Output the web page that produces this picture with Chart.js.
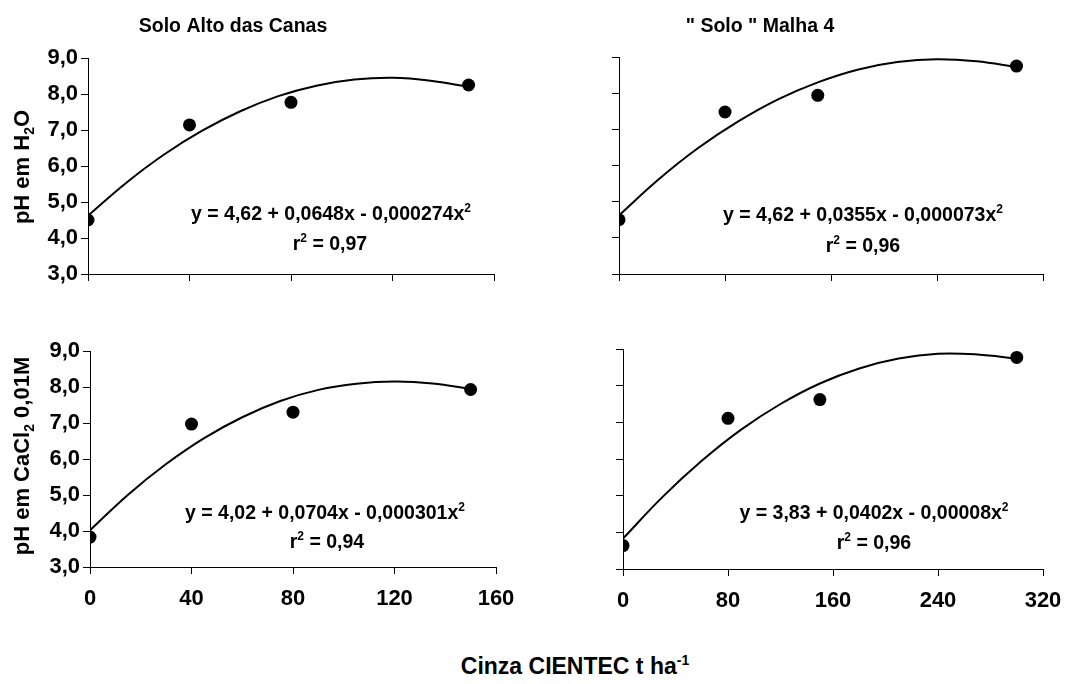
<!DOCTYPE html>
<html>
<head>
<meta charset="utf-8">
<script src="https://cdn.jsdelivr.net/npm/chart.js@4/dist/chart.umd.min.js"></script>
<style>
  html, body { margin: 0; padding: 0; background: #fff; }
  #page { position: relative; width: 1076px; height: 684px; overflow: hidden; }
  canvas { position: absolute; }
  #xtitle {
    position: absolute; left: 575px; top: 655px; transform: translateX(-50%);
    font: bold 23px "Liberation Sans", Arial, sans-serif; line-height: 23px;
    white-space: nowrap; color: #000;
  }
  #xtitle sup { font-size: 14px; vertical-align: 9px; line-height: 0; }
</style>
</head>
<body>
<div id="page">
  <canvas id="c1" width="540" height="300" style="left:0;top:0"></canvas>
  <canvas id="c2" width="536" height="300" style="left:540px;top:0"></canvas>
  <canvas id="c3" width="540" height="340" style="left:0;top:300px"></canvas>
  <canvas id="c4" width="536" height="340" style="left:540px;top:300px"></canvas>
  <div id="xtitle">Cinza CIENTEC t ha<sup>-1</sup></div>
</div>
<script>
// --- DATA ---
const yTicks = [3, 4, 5, 6, 7, 8, 9];
const yTickLabels = ['3,0', '4,0', '5,0', '6,0', '7,0', '8,0', '9,0'];
const xTicksA = ['0', '40', '80', '120', '160'];
const xTicksB = ['0', '80', '160', '240', '320'];

// measured points
const doseA = [0, 40, 80, 150];
const doseB = [0, 80, 150, 300];
const phH2oA = [4.50, 7.14, 7.77, 8.25];
const phH2oB = [4.50, 7.48, 7.94, 8.75];
const phCaclA = [3.83, 6.97, 7.30, 7.93];
const phCaclB = [3.64, 7.11, 7.62, 8.77];

// fitted curves
const curveXA = [0, 15, 30, 45, 60, 75, 90, 105, 120, 135, 150];
const curveXB = [0, 30, 60, 90, 120, 150, 180, 210, 240, 270, 300];
const fitH2oA = [4.62, 5.53, 6.32, 6.98, 7.52, 7.94, 8.23, 8.40, 8.45, 8.37, 8.20];
const fitH2oB = [4.62, 5.62, 6.49, 7.22, 7.83, 8.30, 8.65, 8.86, 8.94, 8.88, 8.72];
const fitCaclA = [4.02, 5.01, 5.86, 6.58, 7.16, 7.61, 7.92, 8.09, 8.15, 8.10, 7.95];
const fitCaclB = [3.83, 4.96, 5.95, 6.80, 7.50, 8.06, 8.47, 8.74, 8.87, 8.85, 8.74];

const FONT = '"Liberation Sans", Arial, sans-serif';

// draws text with sub/superscripts, centred on cx
function drawRich(ctx, parts, cx, baseY, size) {
    const fontFor = m => `bold ${m ? Math.round(size * 0.62) : size}px ${FONT}`;
    let total = 0;
    parts.forEach(([t, m]) => { ctx.font = fontFor(m); total += ctx.measureText(t).width; });
    let x = cx - total / 2;
    parts.forEach(([t, m]) => {
        ctx.font = fontFor(m);
        const dy = m === 'sup' ? -size * 0.42 : m === 'sub' ? size * 0.22 : 0;
        ctx.fillText(t, x, baseY + dy);
        x += ctx.measureText(t).width;
    });
}

const panelText = {
    id: 'panelText',
    afterDraw(chart, args, o) {
        const ctx = chart.ctx;
        ctx.save();
        ctx.fillStyle = '#000';
        ctx.textAlign = 'left';
        ctx.textBaseline = 'alphabetic';
        if (o.title) drawRich(ctx, [[o.title, '']], o.titleX, o.titleY, 19.5);
        drawRich(ctx, o.eq, o.eqX, o.eqY, 19.5);
        drawRich(ctx, o.r2, o.r2X, o.r2Y, 19.5);
        if (o.ytitle) {
            ctx.translate(o.ytX, o.ytY);
            ctx.rotate(-Math.PI / 2);
            drawRich(ctx, o.ytitle, 0, 0, 22);
        }
        ctx.restore();
    }
};

function makePanel(id, cfg) {
    const xLabels = cfg.xLabels;
    const xStep = cfg.xMax / (xLabels.length - 1);
    new Chart(document.getElementById(id), {
        type: 'scatter',
        data: {
            datasets: [
                {
                    data: cfg.fitX.map((x, i) => ({ x, y: cfg.fitY[i] })),
                    showLine: true,
                    borderColor: '#000',
                    borderWidth: 2,
                    pointRadius: 0,
                    tension: 0.4
                },
                {
                    data: cfg.ptX.map((x, i) => ({ x, y: cfg.ptY[i] })),
                    backgroundColor: '#000',
                    borderColor: '#000',
                    borderWidth: 0,
                    pointRadius: 6.5
                }
            ]
        },
        options: {
            responsive: false,
            animation: false,
            layout: { padding: { top: cfg.padTop, right: cfg.padRight, left: 0, bottom: 0 } },
            plugins: {
                legend: { display: false },
                tooltip: { enabled: false },
                panelText: cfg.text
            },
            scales: {
                x: {
                    type: 'linear', min: 0, max: cfg.xMax,
                    afterFit: s => { s.height = cfg.xH; },
                    afterBuildTicks: s => { s.ticks = xLabels.map((_, i) => ({ value: i * xStep })); },
                    grid: { drawOnChartArea: false, drawTicks: true, tickLength: 7, color: '#000' },
                    border: { display: true, color: '#000', width: 1 },
                    ticks: {
                        display: cfg.showX, padding: 12, color: '#000',
                        font: { family: FONT, size: 22, weight: 'bold' },
                        maxRotation: 0,
                        callback: (v, i) => xLabels[i]
                    }
                },
                y: {
                    type: 'linear', min: 3, max: 9,
                    afterFit: s => { s.width = cfg.yW; },
                    afterBuildTicks: s => { s.ticks = yTicks.map(v => ({ value: v })); },
                    grid: { drawOnChartArea: false, drawTicks: true, tickLength: 7, color: '#000' },
                    border: { display: true, color: '#000', width: 1 },
                    ticks: {
                        display: cfg.showY, padding: 3, color: '#000',
                        font: { family: FONT, size: 22, weight: 'bold' },
                        callback: (v, i) => yTickLabels[i]
                    }
                }
            }
        },
        plugins: [panelText]
    });
}

makePanel('c1', {
    xMax: 160, xLabels: xTicksA, showX: false, showY: true,
    padTop: 58, padRight: 46, yW: 88, xH: 26,
    ptX: doseA, ptY: phH2oA, fitX: curveXA, fitY: fitH2oA,
    text: {
        title: 'Solo Alto das Canas', titleX: 233, titleY: 32,
        eq: [['y = 4,62 + 0,0648x - 0,000274x', ''], ['2', 'sup']], eqX: 331, eqY: 220,
        r2: [['r', ''], ['2', 'sup'], [' = 0,97', '']], r2X: 330, r2Y: 250,
        ytitle: [['pH em H', ''], ['2', 'sub'], ['O', '']], ytX: 29, ytY: 167
    }
});

makePanel('c2', {
    xMax: 320, xLabels: xTicksB, showX: false, showY: false,
    padTop: 57, padRight: 33, yW: 79, xH: 26,
    ptX: doseB, ptY: phH2oB, fitX: curveXB, fitY: fitH2oB,
    text: {
        title: '" Solo " Malha 4', titleX: 220, titleY: 32,
        eq: [['y = 4,62 + 0,0355x - 0,000073x', ''], ['2', 'sup']], eqX: 323, eqY: 221,
        r2: [['r', ''], ['2', 'sup'], [' = 0,96', '']], r2X: 323, r2Y: 252
    }
});

makePanel('c3', {
    xMax: 160, xLabels: xTicksA, showX: true, showY: true,
    padTop: 51, padRight: 44, yW: 90, xH: 73,
    ptX: doseA, ptY: phCaclA, fitX: curveXA, fitY: fitCaclA,
    text: {
        eq: [['y = 4,02 + 0,0704x - 0,000301x', ''], ['2', 'sup']], eqX: 325, eqY: 219,
        r2: [['r', ''], ['2', 'sup'], [' = 0,94', '']], r2X: 327, r2Y: 248,
        ytitle: [['pH em CaCl', ''], ['2', 'sub'], [' 0,01M', '']], ytX: 29, ytY: 156
    }
});

makePanel('c4', {
    xMax: 320, xLabels: xTicksB, showX: true, showY: false,
    padTop: 49, padRight: 33, yW: 83, xH: 71,
    ptX: doseB, ptY: phCaclB, fitX: curveXB, fitY: fitCaclB,
    text: {
        eq: [['y = 3,83 + 0,0402x - 0,00008x', ''], ['2', 'sup']], eqX: 334, eqY: 219,
        r2: [['r', ''], ['2', 'sup'], [' = 0,96', '']], r2X: 334, r2Y: 249
    }
});
</script>
</body>
</html>
